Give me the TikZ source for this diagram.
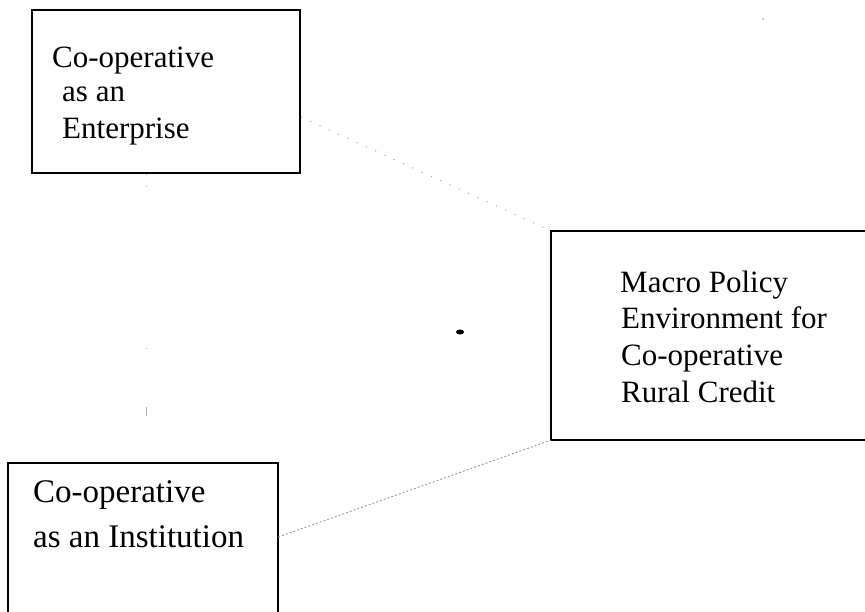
\documentclass[tikz,border=0pt]{standalone}
\usepackage{fontspec}
\setmainfont{Liberation Serif}
\begin{document}
\begin{tikzpicture}[x=1pt,y=-1pt,
  boxstyle/.style={draw=black,line width=1.8pt,minimum width=#1,inner sep=0pt},
  openbox/.style={draw=none,minimum width=#1,inner sep=0pt},
  edge/.style={draw=black,line width=1.8pt,line join=miter},
  txta/.style={anchor=base west,inner sep=0pt,font=\fontsize{31}{36}\selectfont},
  txtb/.style={anchor=base west,inner sep=0pt,font=\fontsize{33}{40}\selectfont},
  faintlink/.style={draw=gray!70,line width=0.9pt,dash pattern=on 1.2pt off 9pt},
  link/.style={draw=gray!80,line width=0.9pt,dash pattern=on 2pt off 2pt}]
\useasboundingbox (0,0) rectangle (865,611);
% boxes
\node[boxstyle=268pt,minimum height=163pt] (b1) at (166,91.5) {};
\node[openbox=318pt,minimum height=209pt] (b2) at (710,335.5) {};
\node[openbox=270pt,minimum height=154pt] (b3) at (143,540) {};
\draw[edge] (b2.north east) -- (b2.north west) -- (b2.south west) -- (b2.south east);
\draw[edge] (b3.south west) -- (b3.north west) -- (b3.north east) -- (b3.south east);
% texts
\node[txta] (t11) at (52,67) {Co-operative};
\node[txta] (t12) at (62,101) {as an};
\node[txta] (t13) at (62,138) {Enterprise};
\node[txta] (t21) at (620,292) {Macro Policy};
\node[txta] (t22) at (621,328.5) {Environment for};
\node[txta] (t23) at (621,365.5) {Co-operative};
\node[txta] (t24) at (621,402) {Rural Credit};
\node[txtb] (t31) at (33,502) {Co-operative};
\node[txtb] (t32) at (33,547) {as an Institution};
% connectors
\draw[faintlink] ([yshift=-25.5pt]b1.east) -- (b2.north west);
\draw[link] ([yshift=3pt]b3.east) -- (b2.south west);
\draw[draw=gray!60,line width=0.8pt,dash pattern=on 1pt off 11pt on 1pt off 161pt on 1pt off 58pt on 9pt off 100pt] (b1.south -| 146,0) -- (b3.north -| 146,0);
% scan marks
\fill[black] (460,332) ellipse (4pt and 2.5pt);
\fill[gray!70] (763,19) circle (1pt);
\end{tikzpicture}
\end{document}
